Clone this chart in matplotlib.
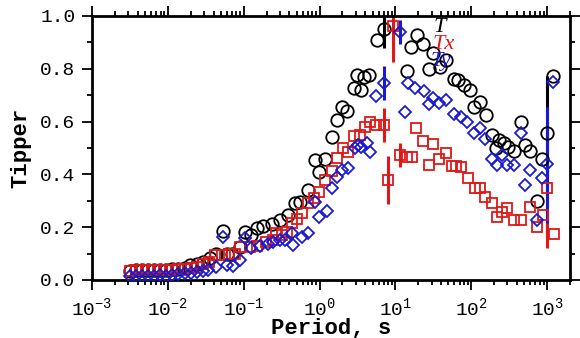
import numpy as np
import matplotlib
matplotlib.use("Agg")
import matplotlib.pyplot as plt
from matplotlib.ticker import FixedLocator, LogLocator, MultipleLocator, FuncFormatter, NullFormatter

plt.rcParams['font.family'] = ['Liberation Mono', 'DejaVu Sans']
plt.rcParams['mathtext.fontset'] = 'custom'
plt.rcParams['mathtext.rm'] = 'Liberation Mono'
plt.rcParams['mathtext.default'] = 'rm'

# log10 of period (s) and tipper magnitude
t_logp = [-2.5, -2.42, -2.34, -2.26, -2.18, -2.1, -2.02, -1.94, -1.86, -1.78,
          -1.71, -1.62, -1.54, -1.45, -1.36, -1.27, -1.22, -1.16, -1.05, -0.98,
          -0.9, -0.83, -0.74, -0.63, -0.52, -0.41, -0.32, -0.26, -0.15, -0.06,
          -0.01, 0.07, 0.16, 0.23, 0.29, 0.36, 0.45, 0.49, 0.54, 0.58,
          0.645, 0.756, 0.843, 1.15, 1.2, 1.28, 1.36, 1.44, 1.5, 1.59,
          1.66, 1.77, 1.83, 1.9, 1.98, 2.03, 2.12, 2.2, 2.27, 2.32,
          2.36, 2.43, 2.49, 2.56, 2.65, 2.71, 2.78, 2.87, 2.93, 3.0, 3.08]
t_val = [0.035, 0.036, 0.036, 0.037, 0.036, 0.037, 0.038, 0.04, 0.042, 0.047,
         0.057, 0.06, 0.069, 0.085, 0.10, 0.185, 0.10, 0.10, 0.126, 0.183,
         0.17, 0.196, 0.204, 0.212, 0.227, 0.246, 0.29, 0.297, 0.34, 0.455,
         0.41, 0.458, 0.54, 0.606, 0.656, 0.64, 0.726, 0.777, 0.72, 0.77,
         0.777, 0.91, 0.95, 0.79, 0.884, 0.928, 0.893, 0.80, 0.861, 0.808,
         0.833, 0.76, 0.758, 0.739, 0.72, 0.656, 0.675, 0.625, 0.549, 0.5,
         0.53, 0.518, 0.505, 0.49, 0.6, 0.51, 0.49, 0.30, 0.457, 0.556, 0.773]

tx_logp = [-2.5, -2.42, -2.34, -2.26, -2.18, -2.1, -2.02, -1.94, -1.86, -1.78,
           -1.7, -1.62, -1.54, -1.46, -1.38, -1.29, -1.2, -1.12, -1.05, -0.92,
           -0.82, -0.7, -0.62, -0.57, -0.5, -0.43, -0.37, -0.3, -0.23, -0.15,
           -0.08, -0.01, 0.07, 0.16, 0.23, 0.31, 0.38, 0.46, 0.53, 0.6,
           0.67, 0.75, 0.843, 0.896, 0.966, 1.063, 1.15, 1.22, 1.27, 1.36,
           1.44, 1.5, 1.57, 1.66, 1.74, 1.8, 1.86, 1.96, 2.05, 2.12,
           2.18, 2.27, 2.34, 2.4, 2.47, 2.56, 2.65, 2.78, 2.87, 2.95, 3.0, 3.09]
tx_val = [0.035, 0.037, 0.037, 0.036, 0.037, 0.036, 0.036, 0.037, 0.04, 0.042,
          0.045, 0.05, 0.06, 0.07, 0.095, 0.095, 0.098, 0.1, 0.126, 0.126,
          0.13, 0.145, 0.15, 0.177, 0.17, 0.183, 0.215, 0.23, 0.253, 0.293,
          0.31, 0.335, 0.379, 0.413, 0.461, 0.5, 0.486, 0.545, 0.55, 0.58,
          0.6, 0.587, 0.587, 0.379, 0.962, 0.473, 0.467, 0.467, 0.575, 0.528,
          0.436, 0.515, 0.457, 0.48, 0.432, 0.43, 0.427, 0.385, 0.347, 0.35,
          0.316, 0.29, 0.24, 0.259, 0.271, 0.227, 0.227, 0.275, 0.2, 0.246, 0.347, 0.174]

ty_logp = [-2.5, -2.42, -2.34, -2.26, -2.18, -2.1, -2.02, -1.94, -1.86, -1.78,
           -1.7, -1.62, -1.54, -1.47, -1.36, -1.27, -1.22, -1.14, -1.05, -0.98,
           -0.9, -0.78, -0.68, -0.61, -0.52, -0.45, -0.37, -0.35, -0.23, -0.15,
           -0.06, -0.01, 0.1, 0.16, 0.23, 0.29, 0.38, 0.47, 0.51, 0.54,
           0.62, 0.67, 0.75, 0.843, 1.063, 1.13, 1.17, 1.26, 1.37, 1.44,
           1.5, 1.57, 1.66, 1.77, 1.86, 1.94, 2.03, 2.12, 2.18, 2.27,
           2.34, 2.4, 2.47, 2.56, 2.65, 2.71, 2.78, 2.87, 2.93, 3.0, 3.08]
ty_val = [0.015, 0.016, 0.017, 0.016, 0.017, 0.018, 0.017, 0.02, 0.022, 0.025,
          0.028, 0.03, 0.033, 0.038, 0.048, 0.164, 0.057, 0.053, 0.076, 0.158,
          0.12, 0.13, 0.135, 0.145, 0.152, 0.15, 0.177, 0.133, 0.164, 0.177,
          0.297, 0.24, 0.26, 0.35, 0.39, 0.417, 0.423, 0.5, 0.51, 0.505,
          0.518, 0.486, 0.697, 0.745, 0.94, 0.638, 0.747, 0.726, 0.717, 0.667,
          0.688, 0.669, 0.68, 0.63, 0.619, 0.6, 0.556, 0.575, 0.533, 0.457,
          0.436, 0.473, 0.436, 0.436, 0.556, 0.36, 0.417, 0.227, 0.385, 0.44, 0.75]

# error bars (log10 period, centre, half-length)
t_err_logp = [0.843, 3.0]
t_err_val = [0.95, 0.556]
t_err = [0.07, 0.215]
tx_err_logp = [0.843, 0.896, 0.966, 1.063, 3.0]
tx_err_val = [0.587, 0.379, 0.962, 0.473, 0.347]
tx_err = [0.063, 0.09, 0.135, 0.045, 0.225]
ty_err_logp = [0.843, 1.063, 3.0]
ty_err_val = [0.745, 0.94, 0.436]
ty_err = [0.064, 0.045, 0.22]

x_decades = [1e-3, 1e-2, 1e-1, 1e0, 1e1, 1e2, 1e3]

black = 'black'
red = '#e01818'
blue = '#1a1ad0'

fig = plt.figure(figsize=(5.8, 3.38), dpi=100)
ax = fig.add_axes([92 / 580, 1 - 280 / 338, 478 / 580, 264 / 338])

def per(lp):
    return 10 ** np.array(lp)

ax.errorbar(per(t_err_logp), t_err_val, yerr=t_err, fmt='none', ecolor=black, elinewidth=2.2, capsize=0, zorder=2)
ax.errorbar(per(tx_err_logp), tx_err_val, yerr=tx_err, fmt='none', ecolor=red, elinewidth=2.2, capsize=0, zorder=2)
ax.errorbar(per(ty_err_logp), ty_err_val, yerr=ty_err, fmt='none', ecolor=blue, elinewidth=2.2, capsize=0, zorder=2.5)

ax.plot(per(t_logp), t_val, 'o', ms=9, mfc='none', mec=black, mew=1.3, zorder=3)
ax.plot(per(tx_logp), tx_val, 's', ms=7, mfc='none', mec=red, mew=1.3, zorder=3)
ax.plot(per(ty_logp), ty_val, 'D', ms=6.5, mfc='none', mec=blue, mew=1.3, zorder=3)

lab_kw = dict(fontsize=16, family='Liberation Serif', style='italic', va='center', zorder=4)
ax.text(31.6, 0.958, 'T', color=black, **lab_kw)
ax.text(30.9, 0.892, 'Tx', color=red, **lab_kw)
ax.text(29.0, 0.828, 'Ty', color=blue, **lab_kw)

ax.set_xscale('log')
ax.set_xlim(1e-3, 2000)
ax.set_ylim(0, 1.0)
ax.xaxis.set_major_locator(FixedLocator(x_decades))
ax.xaxis.set_minor_locator(LogLocator(base=10, subs=np.arange(2, 10), numticks=20))
ax.xaxis.set_major_formatter(FuncFormatter(lambda v, _: '10$^{%d}$' % round(np.log10(v))))
ax.xaxis.set_minor_formatter(NullFormatter())
ax.yaxis.set_major_locator(MultipleLocator(0.2))
ax.yaxis.set_minor_locator(MultipleLocator(0.1))
ax.yaxis.set_major_formatter(FuncFormatter(lambda v, _: '%.1f' % v))

ax.tick_params(which='both', direction='out', top=True, right=True, width=1.3, labelsize=14)
ax.tick_params(which='major', length=7, pad=5)
ax.tick_params(which='minor', length=3.5)
for s in ax.spines.values():
    s.set_linewidth(2)

ax.set_xlabel('Period, s', fontsize=16, fontweight='bold')
ax.set_ylabel('Tipper', fontsize=16, fontweight='bold')
ax.xaxis.set_label_coords(0.5, (280 - 318) / 264)
ax.yaxis.set_label_coords((31 - 92) / 478, 0.5)

fig.savefig('out.png', dpi=100)
